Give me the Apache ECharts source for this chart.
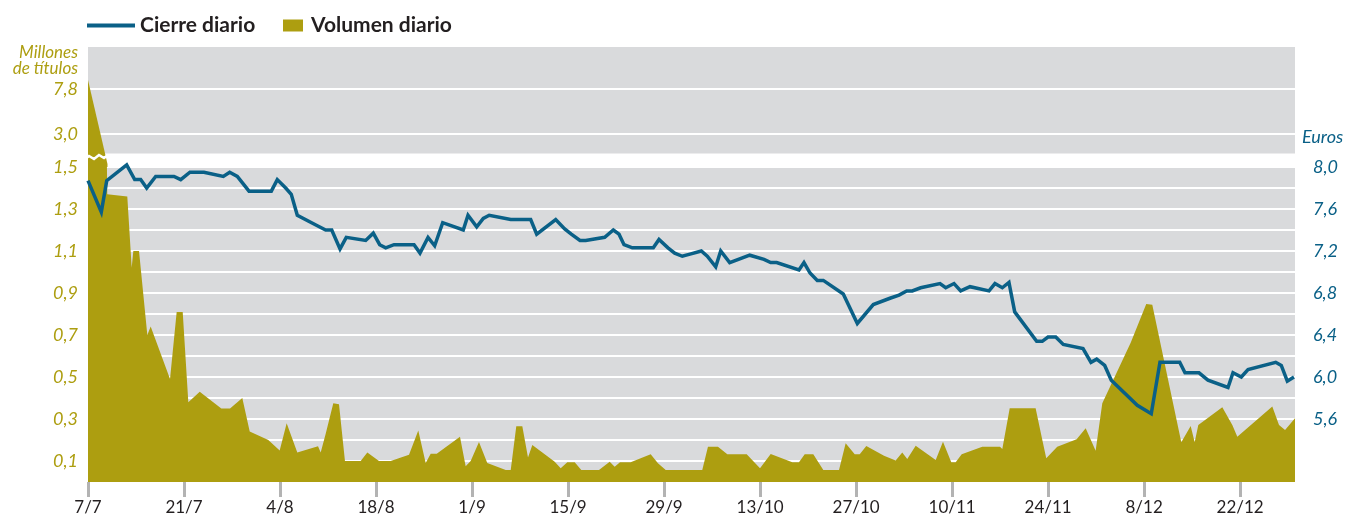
<!DOCTYPE html>
<html>
<head>
<meta charset="utf-8">
<script src="https://cdn.jsdelivr.net/npm/echarts@6/dist/echarts.min.js"></script>
<style>
  html, body { margin: 0; padding: 0; background: #fff; }
  #chart { width: 1345px; height: 524px; }
</style>
</head>
<body>
<div id="chart"></div>
<script>
// eje x: días desde el 7/7
var tickDays = [0, 14, 28, 42, 56, 70, 84, 98, 112, 126, 140, 154, 168];
var dateLabels = ['7/7', '21/7', '4/8', '18/8', '1/9', '15/9', '29/9', '13/10', '27/10', '10/11', '24/11', '8/12', '22/12'];

// cierre diario (euros)
var closeDays = [0, 1.94, 2.73, 5.64, 6.81, 7.68, 8.56, 9.87, 12.54, 13.52,
  14.87, 16.91, 19.73, 20.66, 21.77, 23.48, 26.73, 27.60, 28.83, 29.64,
  30.52, 33.44, 34.66, 35.54, 36.75, 37.66, 40.49, 41.60, 42.53, 43.41,
  44.62, 47.54, 48.41, 49.58, 50.55, 51.72, 54.72, 55.41, 56.68, 57.64,
  58.5, 61.64, 64.55, 65.43, 68.20, 69.51, 70.47, 71.74, 72.57, 75.34,
  76.60, 77.43, 78.16, 79.37, 82.43, 83.26, 84.57, 85.55, 86.66, 87.78,
  89.43, 90.30, 91.53, 92.26, 93.57, 96.49, 98.57, 99.55, 100.42, 103.67,
  104.40, 105.28, 106.34, 107.22, 110.13, 112.18, 114.51, 116.94, 118.26, 119.38,
  120.19, 121.42, 124.23, 125.07, 126.28, 127.25, 128.61, 131.38, 132.25, 133.32,
  134.29, 135.13, 138.33, 139.15, 139.98, 141.11, 142.21, 145.09, 146.25, 147.08,
  148.25, 149.21, 153.00, 155.04, 156.31, 159.19, 159.96, 162.00, 163.31, 166.23,
  166.96, 168.17, 169.15, 173.19, 174.00, 174.88, 175.85];
var closeValues = [7.87, 7.57, 7.87, 8.02, 7.88, 7.88, 7.80, 7.91, 7.91, 7.88,
  7.95, 7.95, 7.91, 7.95, 7.91, 7.77, 7.77, 7.88, 7.80, 7.74,
  7.54, 7.44, 7.40, 7.40, 7.22, 7.33, 7.30, 7.37, 7.26, 7.23,
  7.26, 7.26, 7.18, 7.33, 7.25, 7.47, 7.40, 7.54, 7.43, 7.51,
  7.54, 7.50, 7.50, 7.36, 7.50, 7.41, 7.36, 7.30, 7.30, 7.33,
  7.40, 7.36, 7.26, 7.23, 7.23, 7.31, 7.23, 7.18, 7.15, 7.17,
  7.20, 7.15, 7.05, 7.20, 7.09, 7.16, 7.12, 7.09, 7.09, 7.02,
  7.09, 6.99, 6.92, 6.92, 6.79, 6.51, 6.69, 6.75, 6.78, 6.82,
  6.82, 6.85, 6.89, 6.85, 6.89, 6.82, 6.86, 6.82, 6.89, 6.85,
  6.90, 6.62, 6.34, 6.34, 6.38, 6.38, 6.31, 6.27, 6.14, 6.17,
  6.11, 5.97, 5.73, 5.65, 6.14, 6.14, 6.04, 6.04, 5.97, 5.90,
  6.04, 6.00, 6.07, 6.14, 6.11, 5.96, 6.00];

// volumen diario (millones de títulos)
var volumeDays = [0, 2.81, 5.73, 6.37, 6.61, 7.44, 8.65, 9.14, 11.96, 12.93,
  13.81, 14.63, 16.29, 19.44, 20.71, 22.50, 23.58, 26.29, 27.95, 28.97,
  30.52, 33.54, 33.93, 34.66, 35.77, 36.60, 37.47, 39.76, 40.73, 42.43,
  44.14, 46.81, 48.16, 49.24, 49.97, 50.85, 54.24, 55.07, 55.80, 57.01,
  58.22, 60.91, 61.64, 62.45, 63.33, 64.16, 64.79, 68.05, 68.93, 69.89,
  70.97, 71.93, 74.51, 76.07, 76.80, 77.57, 79.13, 82.05, 83.11, 84.24,
  89.57, 90.40, 91.86, 93.22, 96.05, 97.99, 99.55, 102.70, 103.67, 104.51,
  105.76, 107.22, 109.51, 110.48, 111.80, 112.53, 113.49, 116.07, 117.77, 118.73,
  119.46, 120.69, 123.61, 124.67, 125.88, 126.52, 127.40, 130.40, 132.98, 133.32,
  134.40, 138.18, 139.00, 139.73, 141.33, 144.16, 145.48, 146.93, 147.90, 152.04,
  154.31, 155.19, 159.42, 160.79, 161.37, 161.90, 165.40, 166.86, 167.59, 172.69,
  173.67, 174.55, 176];
var volumeValues = [8.76, 1.37, 1.36, 1.02, 1.10, 1.10, 0.70, 0.74, 0.49, 0.81,
  0.81, 0.38, 0.43, 0.35, 0.35, 0.40, 0.24, 0.20, 0.15, 0.28,
  0.14, 0.17, 0.14, 0.23, 0.375, 0.37, 0.10, 0.10, 0.14, 0.10,
  0.10, 0.13, 0.245, 0.09, 0.135, 0.135, 0.215, 0.075, 0.10, 0.19,
  0.09, 0.057, 0.057, 0.265, 0.265, 0.117, 0.176, 0.097, 0.065, 0.094,
  0.094, 0.057, 0.057, 0.097, 0.073, 0.094, 0.094, 0.132, 0.089, 0.057,
  0.057, 0.168, 0.168, 0.132, 0.132, 0.065, 0.133, 0.094, 0.094, 0.132,
  0.132, 0.057, 0.057, 0.184, 0.132, 0.132, 0.171, 0.125, 0.102, 0.14,
  0.11, 0.173, 0.105, 0.192, 0.094, 0.094, 0.132, 0.168, 0.168, 0.157,
  0.351, 0.351, 0.224, 0.113, 0.168, 0.203, 0.256, 0.149, 0.375, 0.663,
  0.848, 0.844, 0.189, 0.267, 0.189, 0.271, 0.356, 0.271, 0.216, 0.359,
  0.271, 0.248, 0.303];

// tramo superior del eje cortado: solo el pico del primer día
var topDays = [0, 2.84];
var topValues = [8.76, -0.2];

var GOLD = '#ad9e10';
var BLUE = '#0a6087';
var FONT = 'Lato';

function pairs(xs, ys) {
  return xs.map(function (x, i) { return [x, ys[i]]; });
}
function comma(v) {
  return v.toFixed(1).replace('.', ',');
}

var chart = echarts.init(document.getElementById('chart'));

var option = {
  animation: false,
  textStyle: { fontFamily: FONT },
  legend: [{
    data: [{ name: 'Cierre diario', icon: 'rect' }],
    left: 87, top: 15, padding: 0,
    itemWidth: 48, itemHeight: 4,
    textStyle: { fontFamily: FONT, fontWeight: 'bold', fontSize: 21, color: '#231f20' }
  }, {
    data: [{ name: 'Volumen diario', icon: 'rect' }],
    left: 283, top: 15, padding: 0,
    itemWidth: 20, itemHeight: 12,
    textStyle: { fontFamily: FONT, fontWeight: 'bold', fontSize: 21, color: '#231f20', padding: [0, 0, 0, 3] }
  }],
  graphic: [{
    type: 'text', x: 78, y: 45, z: 100,
    style: { text: 'Millones\nde títulos', textAlign: 'right', textVerticalAlign: 'top',
      font: 'italic 17px Lato', fill: GOLD, lineHeight: 16 }
  }, {
    type: 'text', x: 1302, y: 137, z: 100,
    style: { text: 'Euros', textAlign: 'left', textVerticalAlign: 'middle',
      font: 'italic 18px Lato', fill: BLUE }
  }, {
    // marca del corte del eje
    type: 'polyline', z: 100,
    shape: { points: [[84, 160], [89, 156], [94, 159], [99, 155], [104, 158], [108, 155]] },
    style: { stroke: '#fff', lineWidth: 2.5, fill: null }
  }],
  grid: [
    { left: 88, right: 50, top: 47, height: 106.5, show: true, backgroundColor: '#d9dadc', borderWidth: 0 },
    { left: 88, right: 50, top: 167, height: 315, show: true, backgroundColor: '#d9dadc', borderWidth: 0 }
  ],
  xAxis: [{
    gridIndex: 0, type: 'value', min: 0, max: 176, show: false
  }, {
    gridIndex: 1, type: 'value', min: 0, max: 176,
    axisLine: { show: false },
    axisTick: { show: true, customValues: tickDays, length: 15, lineStyle: { color: '#b3b3b3', width: 3 } },
    axisLabel: {
      customValues: tickDays,
      formatter: function (v) { return dateLabels[tickDays.indexOf(v)] || ''; },
      color: '#231f20', fontSize: 17, fontFamily: FONT, margin: 17
    },
    splitLine: { show: false }
  }],
  yAxis: [{
    gridIndex: 0, type: 'value', min: 0.92, max: 12.28, position: 'left',
    axisLine: { show: false },
    axisTick: { show: false, customValues: [3.0, 7.8] },
    axisLabel: {
      customValues: [3.0, 7.8], formatter: comma, margin: 10,
      color: GOLD, fontStyle: 'italic', fontSize: 18, fontFamily: FONT
    },
    splitLine: { show: true, lineStyle: { color: '#fff', width: 2 } }
  }, {
    gridIndex: 1, type: 'value', min: 0, max: 1.5, interval: 0.1, position: 'left',
    axisLine: { show: false },
    axisTick: { show: false },
    axisLabel: {
      formatter: function (v) { return Math.round(v * 10) % 2 === 1 ? comma(v) : ''; },
      margin: 10, color: GOLD, fontStyle: 'italic', fontSize: 18, fontFamily: FONT
    },
    splitLine: { show: true, lineStyle: { color: '#fff', width: 2 } }
  }, {
    gridIndex: 1, type: 'value', min: 5.0, max: 8.0, interval: 0.2, position: 'right',
    axisLine: { show: false },
    axisTick: { show: false },
    axisLabel: {
      formatter: function (v) {
        var t = Math.round(v * 10);
        return (t >= 56 && t % 4 === 0) ? comma(v) : '';
      },
      margin: 18, color: BLUE, fontStyle: 'italic', fontSize: 18, fontFamily: FONT
    },
    splitLine: { show: false }
  }],
  series: [{
    name: 'Volumen diario',
    type: 'line',
    xAxisIndex: 0, yAxisIndex: 0,
    data: pairs(topDays, topValues),
    symbol: 'none', clip: false, silent: true,
    color: GOLD,
    lineStyle: { width: 0 },
    areaStyle: { color: GOLD, opacity: 1, origin: -0.52 }
  }, {
    name: 'Volumen diario',
    type: 'line',
    xAxisIndex: 1, yAxisIndex: 1,
    data: pairs(volumeDays, volumeValues),
    symbol: 'none', clip: true,
    color: GOLD,
    lineStyle: { width: 0 },
    areaStyle: { color: GOLD, opacity: 1 }
  }, {
    name: 'Cierre diario',
    type: 'line',
    xAxisIndex: 1, yAxisIndex: 2,
    data: pairs(closeDays, closeValues),
    symbol: 'none', clip: false,
    color: BLUE,
    lineStyle: { color: BLUE, width: 3.5, join: 'miter' }
  }]
};

chart.setOption(option);
</script>
</body>
</html>
